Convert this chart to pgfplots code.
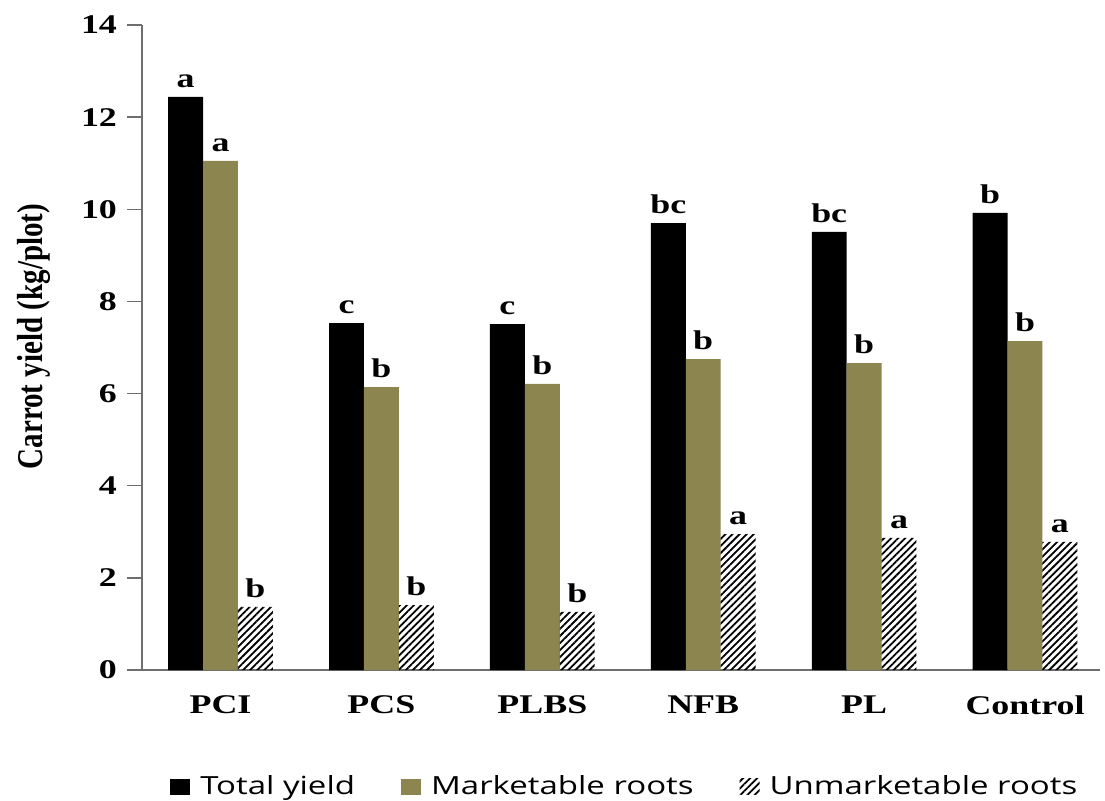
\documentclass[border=0pt]{standalone}
\usepackage{fontspec}
\setmainfont{Liberation Serif}
\newfontfamily\wsf[FakeStretch=1.33]{Liberation Serif}
\newfontfamily\legfont[FakeStretch=1.32]{Open Sans}
\usepackage{pgfplots}
\pgfplotsset{compat=1.18}
\usetikzlibrary{patterns.meta}
\definecolor{mkt}{RGB}{140,133,80}
\definecolor{axgray}{RGB}{110,110,110}
\begin{document}
\begin{tikzpicture}
\useasboundingbox (-71pt,-65pt) rectangle (481.5pt,335pt);
\begin{axis}[
 scale only axis, width=479pt, height=322.5pt,
 xmin=-0.488, xmax=5.466, ymin=0, ymax=14,
 axis x line*=bottom, axis y line*=left,
 axis line style={axgray, line width=0.7pt},
 ytick={0,2,...,14},
 xtick={0,...,5}, xticklabels={PCI,PCS,PLBS,NFB,PL,Control},
 x tick style={draw=none},
 y tick style={axgray, line width=0.7pt},
 tick align=outside, major tick length=7.5pt,
 ticklabel style={font=\wsf\fontsize{13.5}{13.5}\selectfont\bfseries},
 /pgf/number format/assume math mode=true,
 yticklabel style={xshift=-1.5pt},
 xticklabel style={yshift=-2pt},
 ylabel={\scalebox{1}[1.25]{Carrot yield (kg/plot)}},
 ylabel style={font=\fontsize{14.5}{14.5}\selectfont\bfseries, at={(axis description cs:-0.113,0.517)}, anchor=center},
 ybar=0pt, bar width=0.217,
 nodes near coords, point meta=explicit symbolic,
 every node near coord/.append style={font=\wsf\fontsize{13.5}{13.5}\selectfont\bfseries, yshift=1pt},
 legend style={at={(0.505,-0.181)}, anchor=center, draw=none, legend columns=-1, font=\legfont\fontsize{12.5}{14}\selectfont, /tikz/every even column/.append style={column sep=21pt}, /tikz/every odd column/.append style={column sep=3pt}},
 legend image code/.code={\path (0pt,-4pt) rectangle (10pt,4pt);},
 clip=false,
]
\addplot[fill=black, draw=none, bar shift=-0.217] coordinates {(0,12.44)[a] (1,7.53)[c] (2,7.51)[c] (3,9.70)[bc] (4,9.51)[bc] (5,9.92)[b]};
\addplot[fill=mkt, draw=none, bar shift=0] coordinates {(0,11.05)[a] (1,6.14)[b] (2,6.21)[b] (3,6.75)[b] (4,6.66)[b] (5,7.14)[b]};
\addplot[pattern={Lines[angle=45,distance=2.5pt,line width=0.9pt]}, draw=none, bar shift=0.217] coordinates {(0,1.37)[b] (1,1.41)[b] (2,1.26)[b] (3,2.95)[a] (4,2.87)[a] (5,2.78)[a]};
\legend{Total yield, Marketable roots, Unmarketable roots}
\end{axis}
\end{tikzpicture}
\end{document}
